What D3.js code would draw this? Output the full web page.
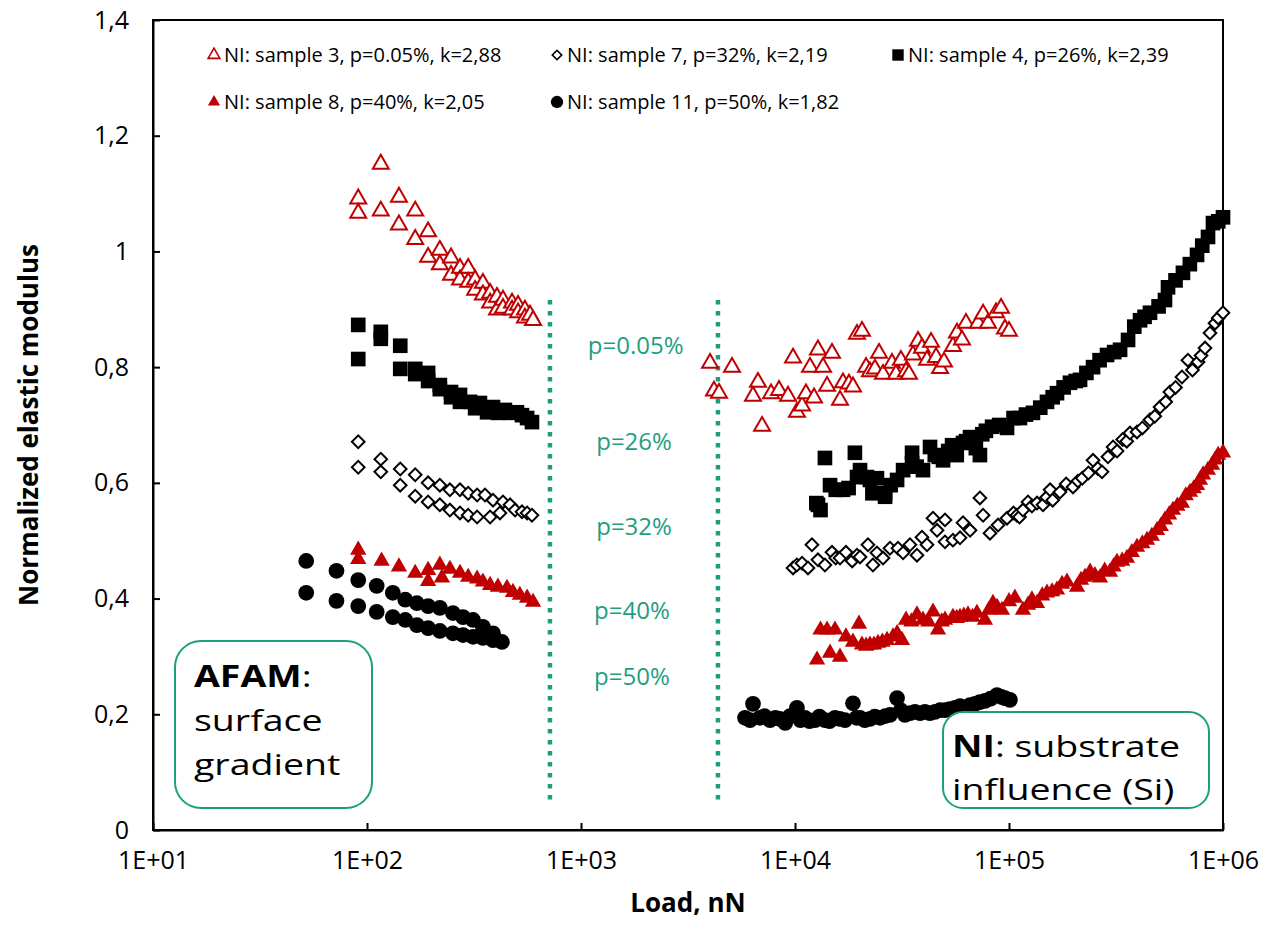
<!DOCTYPE html>
<html>
  <head>
    <title>Normalized elastic modulus vs load</title>
    <script src="https://d3js.org/d3.v7.min.js"></script>
    <style>
    body { margin: 0; background: white; }
    text { font-family: "Open Sans", "Noto Sans", sans-serif; }
    .tick text { font-size: 25px; fill: black; }
    .tick line, .domain { stroke: black; stroke-width: 2px; }
    </style>
  </head>
  <body>
    <script>
      // ---- data: [load (nN), normalized modulus] ----
      var sample3 = [[91,1.091],[91,1.066],[116,1.151],[116,1.070],[141,1.094],[141,1.046],[168,1.070],[168,1.021],
        [193,1.034],[193,0.990],[219,1.002],[219,0.977],[247,0.989],[247,0.959],[272,0.971],[272,0.951],[297,0.971],
        [297,0.947],[320,0.951],[320,0.933],[348,0.945],[348,0.925],[376,0.928],[376,0.911],[405,0.921],[405,0.899],
        [432,0.916],[432,0.902],[476,0.911],[476,0.899],[508,0.907],[508,0.894],[547,0.899],[547,0.885],[578,0.890],[597,0.881],
        [4009,0.807],[4182,0.759],[4416,0.755],[5077,0.800],[6714,0.774],[6364,0.750],[7015,0.698],[7727,0.754],[8420,0.760],
        [9272,0.750],[9790,0.816],[10210,0.722],[10790,0.733],[11250,0.754],[11750,0.800],[12270,0.747],[12800,0.830],
        [13520,0.800],[14120,0.767],[14890,0.824],[16230,0.743],[16760,0.773],[17870,0.771],[18660,0.766],[19480,0.857],
        [20560,0.862],[21480,0.800],[22400,0.792],[23640,0.797],[24700,0.824],[25780,0.788],[28390,0.807],[29640,0.788],
        [31260,0.812],[33020,0.792],[34100,0.788],[35590,0.821],[37580,0.845],[39200,0.833],[41390,0.812],[43230,0.843],
        [45620,0.817],[47640,0.798],[49700,0.809],[54720,0.836],[57130,0.859],[60300,0.847],[62950,0.876],[71620,0.876],
        [75660,0.892],[79790,0.876],[86950,0.894],[91770,0.902],[95750,0.866],[100000,0.862]];

      var sample7 = [[91,0.671],[91,0.627],[116,0.641],[116,0.619],[143,0.624],[143,0.596],[168,0.614],[168,0.577],
        [193,0.600],[193,0.567],[219,0.596],[219,0.562],[244,0.588],[244,0.553],[272,0.588],[272,0.548],[297,0.582],
        [297,0.544],[327,0.579],[327,0.541],[356,0.579],[376,0.541],[388,0.570],[418,0.548],[432,0.567],[466,0.562],
        [492,0.553],[530,0.550],[560,0.548],[590,0.544],
        [9790,0.453],[10200,0.458],[10790,0.461],[11500,0.453],[12000,0.493],[12800,0.467],[13800,0.458],[14890,0.480],
        [15500,0.470],[16230,0.470],[17300,0.480],[18500,0.465],[19480,0.475],[20130,0.472],[21920,0.493],[23130,0.458],
        [24150,0.479],[25780,0.470],[27790,0.487],[30290,0.487],[31990,0.479],[34450,0.493],[37150,0.475],[39200,0.506],
        [41390,0.493],[44150,0.539],[46110,0.518],[50230,0.536],[50230,0.498],[54720,0.501],[59030,0.505],[60970,0.531],
        [65780,0.518],[73130,0.574],[75660,0.544],[81500,0.513],[88880,0.527],[97900,0.539],[105000,0.548],[108900,0.544],
        [112000,0.541],[116200,0.553],[122700,0.567],[128000,0.560],[135200,0.565],[144200,0.562],[150000,0.575],
        [155600,0.588],[160000,0.570],[173000,0.584],[185000,0.598],[199100,0.593],[210000,0.603],[220000,0.608],
        [235000,0.617],[247000,0.639],[260000,0.625],[272100,0.619],[290000,0.645],[306400,0.662],[320000,0.655],
        [340000,0.675],[355000,0.672],[367500,0.686],[396400,0.688],[420000,0.695],[456000,0.709],[480000,0.715],
        [508000,0.731],[540000,0.740],[564800,0.757],[600000,0.765],[643000,0.783],[685600,0.812],[720000,0.795],
        [764500,0.809],[790000,0.820],[824000,0.833],[869300,0.859],[917600,0.876],[950000,0.885],[1000000,0.894]];

      var sample4 = [[91,0.873],[91,0.814],[116,0.861],[116,0.849],[143,0.837],[143,0.797],[168,0.797],[168,0.788],
        [193,0.790],[193,0.776],[219,0.769],[219,0.762],[247,0.757],[247,0.748],[272,0.752],[272,0.740],[303,0.740],
        [320,0.729],[337,0.738],[364,0.722],[388,0.731],[409,0.721],[441,0.726],[466,0.721],[502,0.722],[530,0.717],
        [560,0.712],[590,0.705],
        [12580,0.565],[12800,0.562],[13160,0.553],[13800,0.643],[14580,0.596],[15500,0.588],[16760,0.588],[17800,0.591],
        [19050,0.652],[19500,0.610],[20130,0.622],[21680,0.610],[22400,0.605],[23000,0.582],[24150,0.608],[26360,0.582],
        [26360,0.576],[28000,0.596],[29990,0.605],[32000,0.622],[35240,0.652],[35240,0.634],[37000,0.628],[39630,0.622],
        [42760,0.662],[45000,0.648],[47000,0.645],[49180,0.639],[52000,0.655],[54220,0.665],[57000,0.648],[60970,0.669],
        [63000,0.672],[65780,0.679],[70000,0.660],[73130,0.648],[75000,0.684],[78000,0.690],[83370,0.697],[90000,0.700],
        [97900,0.695],[105000,0.712],[112500,0.712],[120000,0.718],[129400,0.721],[140000,0.730],[150500,0.740],
        [160000,0.748],[167600,0.755],[180000,0.765],[192700,0.773],[205000,0.776],[214800,0.778],[230000,0.790],
        [247000,0.800],[265000,0.812],[287200,0.821],[310000,0.826],[330400,0.830],[360000,0.847],[385000,0.870],
        [409600,0.881],[430000,0.887],[456000,0.894],[500000,0.905],[535600,0.916],[553400,0.938],[600000,0.950],
        [649900,0.963],[700000,0.978],[756400,0.994],[800000,1.010],[851100,1.025],[897800,1.049],[950000,1.052],
        [1000000,1.059]];

      var sample8 = [[91,0.484],[91,0.468],[117,0.465],[141,0.455],[168,0.444],[193,0.449],[193,0.430],[219,0.458],
        [224,0.436],[244,0.451],[272,0.444],[297,0.437],[327,0.434],[348,0.429],[376,0.423],[409,0.420],[451,0.418],
        [481,0.411],[518,0.406],[560,0.401],[597,0.394],
        [12680,0.294],[13160,0.346],[14120,0.346],[14580,0.306],[15380,0.346],[16230,0.299],[17300,0.334],[18660,0.325],
        [19910,0.356],[20560,0.320],[21500,0.318],[22400,0.320],[23400,0.320],[24430,0.323],[25600,0.325],[26920,0.328],
        [28710,0.334],[30000,0.340],[31620,0.328],[33020,0.363],[35000,0.360],[37150,0.372],[39630,0.363],[42000,0.360],
        [44150,0.377],[46600,0.346],[48500,0.360],[50230,0.363],[54720,0.368],[57000,0.366],[59030,0.368],[61500,0.370],
        [64330,0.372],[67500,0.368],[70810,0.375],[77190,0.363],[80500,0.380],[84150,0.392],[88000,0.385],[92680,0.380],
        [100000,0.395],[106600,0.401],[116200,0.380],[122700,0.389],[128000,0.398],[135200,0.392],[143000,0.405],
        [150500,0.410],[159000,0.412],[167600,0.415],[177000,0.425],[186600,0.429],[207900,0.420],[217000,0.432],
        [226600,0.437],[239200,0.446],[252000,0.440],[266200,0.436],[280000,0.448],[296400,0.446],[308000,0.455],
        [319600,0.463],[338000,0.465],[355900,0.470],[375000,0.480],[396400,0.489],[420000,0.495],[441700,0.501],
        [465000,0.508],[491800,0.518],[512000,0.525],[535600,0.536],[560000,0.545],[583600,0.553],[612000,0.560],
        [643000,0.565],[670000,0.578],[701400,0.584],[730000,0.590],[756400,0.596],[780000,0.605],[806800,0.614],
        [850000,0.622],[889000,0.631],[920000,0.640],[948800,0.648],[1000000,0.652]];

      var sample11 = [[52,0.465],[52,0.410],[72,0.448],[72,0.396],[91,0.432],[91,0.387],[111,0.422],[111,0.377],
        [132,0.410],[132,0.368],[151,0.398],[151,0.363],[171,0.392],[171,0.354],[193,0.387],[193,0.349],[219,0.384],
        [219,0.344],[252,0.375],[252,0.340],[281,0.368],[281,0.337],[313,0.363],[313,0.334],[348,0.351],[348,0.332],
        [388,0.340],[388,0.328],[427,0.325],
        [5840,0.194],[6166,0.190],[6364,0.218],[6860,0.194],[7200,0.197],[7640,0.190],[8100,0.194],[8510,0.192],
        [9000,0.185],[9480,0.197],[10210,0.211],[10600,0.190],[11130,0.194],[11700,0.188],[12400,0.190],[13000,0.196],
        [13800,0.190],[14500,0.188],[15380,0.194],[16200,0.192],[17130,0.190],[18660,0.219],[19400,0.194],[20130,0.194],
        [21200,0.190],[22400,0.192],[23600,0.196],[24960,0.194],[26400,0.197],[27790,0.199],[29990,0.228],[31200,0.207],
        [32660,0.199],[34500,0.202],[36360,0.204],[38400,0.202],[40480,0.204],[42700,0.202],[45080,0.204],[47600,0.207],
        [50230,0.207],[52900,0.209],[55930,0.211],[59000,0.214],[62270,0.211],[65700,0.216],[69340,0.218],[73000,0.221],
        [77190,0.223],[82000,0.227],[87900,0.233],[92000,0.230],[95750,0.228],[101000,0.225]];

      var seriesNames = ["NI: sample 3, p=0.05%, k=2,88", "NI: sample 7, p=32%, k=2,19", "NI: sample 4, p=26%, k=2,39",
                         "NI: sample 8, p=40%, k=2,05", "NI: sample 11, p=50%, k=1,82"];
      var xTicks = [1e1, 1e2, 1e3, 1e4, 1e5, 1e6];
      var xTickLabels = ["1E+01", "1E+02", "1E+03", "1E+04", "1E+05", "1E+06"];
      var yTicks = [0, 0.2, 0.4, 0.6, 0.8, 1, 1.2, 1.4];
      var yTickLabels = ["0", "0,2", "0,4", "0,6", "0,8", "1", "1,2", "1,4"];
      // porosity labels between the two dotted lines: [load, modulus, text]
      var pLabels = [[1800, 0.838, "p=0.05%"], [1770, 0.671, "p=26%"], [1770, 0.524, "p=32%"],
                     [1730, 0.380, "p=40%"], [1730, 0.266, "p=50%"]];
      var dividers = [716, 4365];   // loads of the two dotted lines
      var dividerRange = [0.047, 0.916];

      var width = 1264;
      var height = 925;
      var margin = {left: 153, right: 41, top: 20, bottom: 95};
      var red = "#c00000";
      var green = "#1f9e7f";

      var svg = d3.select("body")
                  .append("svg")
                  .attr("width", width)
                  .attr("height", height);

      var x = d3.scaleLog().domain([1e1, 1e6]).range([margin.left, width - margin.right]);
      var y = d3.scaleLinear().domain([0, 1.4]).range([height - margin.bottom, margin.top]);

      // frame
      svg.append("rect")
         .attr("x", x(1e1)).attr("y", y(1.4))
         .attr("width", x(1e6) - x(1e1)).attr("height", y(0) - y(1.4))
         .attr("fill", "none").attr("stroke", "black").attr("stroke-width", 2);

      svg.append("g")
         .attr("transform", "translate(0," + y(0) + ")")
         .call(d3.axisBottom(x).tickValues(xTicks).tickSize(-7).tickSizeOuter(0).tickPadding(21)
                 .tickFormat(function(d, i){ return xTickLabels[i]; }));

      svg.append("g")
         .attr("transform", "translate(" + x(1e1) + ",0)")
         .call(d3.axisLeft(y).tickValues(yTicks).tickSize(-7).tickSizeOuter(0).tickPadding(24)
                 .tickFormat(function(d, i){ return yTickLabels[i]; }));

      svg.append("text")
         .attr("x", (x(1e1) + x(1e6)) / 2).attr("y", 912)
         .attr("text-anchor", "middle")
         .style("font-size", "26px").style("font-weight", "bold")
         .text("Load, nN");

      svg.append("text")
         .attr("transform", "translate(38," + (y(0) + y(1.4)) / 2 + ") rotate(-90)")
         .attr("text-anchor", "middle")
         .style("font-size", "26px").style("font-weight", "bold")
         .text("Normalized elastic modulus");

      // dotted dividers
      svg.selectAll(".divider")
         .data(dividers)
         .enter()
         .append("line")
         .attr("x1", function(d){ return x(d); }).attr("x2", function(d){ return x(d); })
         .attr("y1", y(dividerRange[1])).attr("y2", y(dividerRange[0]))
         .attr("stroke", green).attr("stroke-width", 4.5).attr("stroke-dasharray", "4.5,6.5");

      svg.selectAll(".plabel")
         .data(pLabels)
         .enter()
         .append("text")
         .attr("x", function(d){ return x(d[0]); })
         .attr("y", function(d){ return y(d[1]); })
         .attr("dy", "0.35em")
         .attr("text-anchor", "middle")
         .style("font-size", "24px")
         .style("fill", green)
         .text(function(d){ return d[2]; });

      // marker definitions
      var styles = [
        {data: sample3, type: d3.symbolTriangle, size: 110, fill: "white", stroke: red, rot: 0},
        {data: sample7, type: d3.symbolSquare, size: 80, fill: "white", stroke: "black", rot: 45},
        {data: sample4, type: d3.symbolSquare, size: 215, fill: "black", stroke: "none", rot: 0},
        {data: sample8, type: d3.symbolTriangle, size: 115, fill: red, stroke: "none", rot: 0},
        {data: sample11, type: d3.symbolCircle, size: 195, fill: "black", stroke: "none", rot: 0}
      ];

      var drawOrder = [4, 3, 2, 1, 0];
      drawOrder.forEach(function(k){
        var s = styles[k];
        svg.append("g")
           .selectAll("path")
           .data(s.data)
           .enter()
           .append("path")
           .attr("d", d3.symbol().type(s.type).size(s.size))
           .attr("transform", function(d){
             return "translate(" + x(d[0]) + "," + y(d[1]) + ") rotate(" + s.rot + ")";
           })
           .attr("fill", s.fill)
           .attr("stroke", s.stroke)
           .attr("stroke-width", 2);
      });

      // legend
      var legendPos = [[214, 55], [557, 55], [898, 55], [214, 102], [557, 102]];
      var legendSize = [60, 45, 130, 65, 120];
      var legend = svg.append("g");
      legendPos.forEach(function(p, i){
        var s = styles[i];
        legend.append("path")
              .attr("d", d3.symbol().type(s.type).size(legendSize[i]))
              .attr("transform", "translate(" + p[0] + "," + p[1] + ") rotate(" + s.rot + ")")
              .attr("fill", s.fill).attr("stroke", s.stroke).attr("stroke-width", 1.6);
        legend.append("text")
              .attr("x", p[0] + 10).attr("y", p[1])
              .attr("dy", "0.35em")
              .style("font-size", "20px")
              .text(seriesNames[i]);
      });

      // annotation boxes (the text in them is drawn a bit wider, as in the original)
      svg.append("rect")
         .attr("x", 175).attr("y", 641).attr("width", 197).attr("height", 167)
         .attr("rx", 26).attr("fill", "white").attr("stroke", green).attr("stroke-width", 2);
      var afamBox = svg.append("g").attr("transform", "translate(194,0) scale(1.25,1)");
      var afam = afamBox.append("text").attr("x", 0).attr("y", 687).style("font-size", "30px");
      afam.append("tspan").style("font-weight", "bold").text("AFAM");
      afam.append("tspan").text(":");
      afamBox.append("text").attr("x", 0).attr("y", 731).style("font-size", "30px").text("surface");
      afamBox.append("text").attr("x", 0).attr("y", 775).style("font-size", "30px").text("gradient");

      svg.append("rect")
         .attr("x", 943).attr("y", 712).attr("width", 266).attr("height", 96)
         .attr("rx", 20).attr("fill", "white").attr("stroke", green).attr("stroke-width", 2);
      var niBox = svg.append("g").attr("transform", "translate(952,0) scale(1.25,1)");
      var ni = niBox.append("text").attr("x", 0).attr("y", 757).style("font-size", "30px");
      ni.append("tspan").style("font-weight", "bold").text("NI");
      ni.append("tspan").text(": substrate");
      niBox.append("text").attr("x", 0).attr("y", 800).style("font-size", "30px").text("influence (Si)");
    </script>
  </body>
</html>
